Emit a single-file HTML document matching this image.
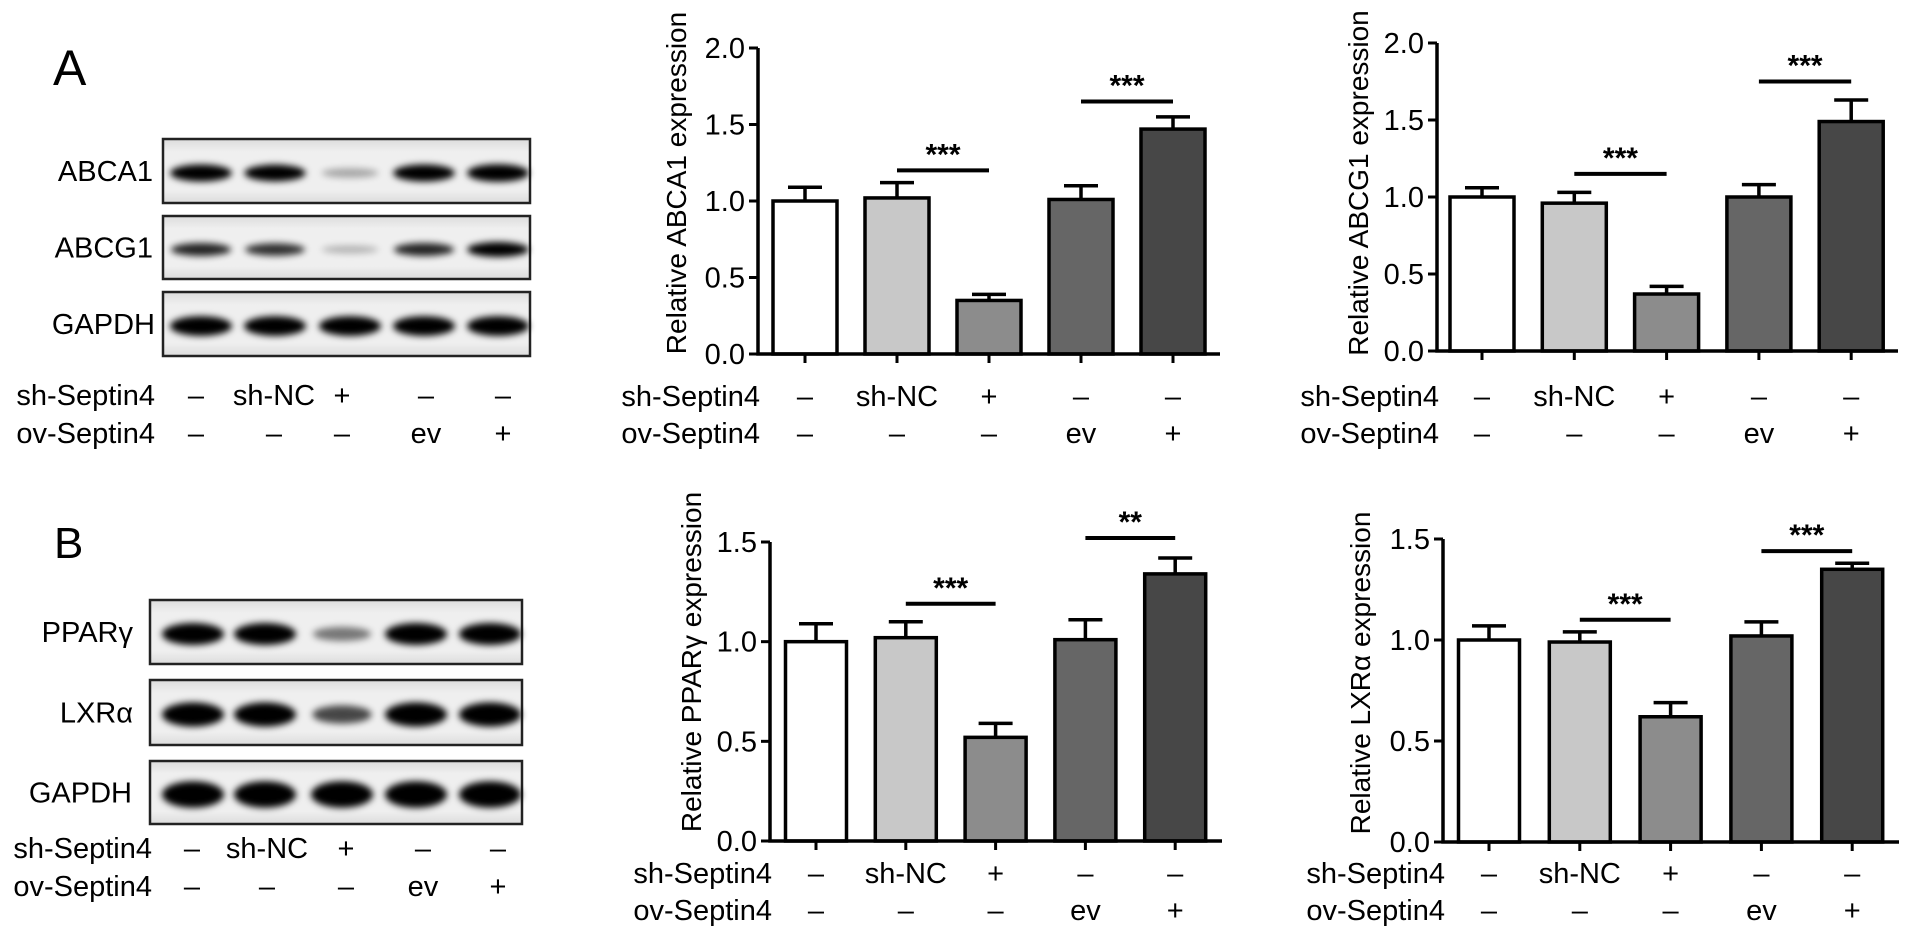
<!DOCTYPE html>
<html><head><meta charset="utf-8">
<style>
html,body{margin:0;padding:0;background:#fff;}
svg{display:block;font-family:"Liberation Sans",Arial,sans-serif;}
</style></head>
<body>
<svg id="fig" width="1913" height="942" viewBox="0 0 1913 942" xmlns="http://www.w3.org/2000/svg">
<defs>
<filter id="blur" x="-30%" y="-100%" width="160%" height="300%"><feGaussianBlur stdDeviation="3.5"/></filter>
<linearGradient id="blotbg" x1="0" y1="0" x2="0" y2="1"><stop offset="0" stop-color="#dcdcdc"/><stop offset="0.2" stop-color="#efefef"/><stop offset="0.8" stop-color="#efefef"/><stop offset="1" stop-color="#dcdcdc"/></linearGradient>
</defs>
<text x="53" y="85" font-size="50">A</text>
<text x="54" y="558" font-size="44">B</text>
<g id="blots"></g>
<g id="charts"></g>
</svg>
<script>
// ---------- chart data ----------
const categories = ["control", "sh-NC", "sh-Septin4", "ev", "ov-Septin4"];
const shRow = ["–", "sh-NC", "+", "–", "–"];
const ovRow = ["–", "–", "–", "ev", "+"];
const ticksTop = [0, 0.5, 1.0, 1.5, 2.0];
const ticksBottom = [0, 0.5, 1.0, 1.5];
const tickLabelsTop = ["0.0", "0.5", "1.0", "1.5", "2.0"];
const tickLabelsBottom = ["0.0", "0.5", "1.0", "1.5"];
const abca1Values = [1.0, 1.02, 0.35, 1.01, 1.47];
const abca1Errors = [0.09, 0.10, 0.04, 0.09, 0.08];
const abca1Sig = [[1, 2, 1.2, "***"], [3, 4, 1.65, "***"]];
const abcg1Values = [1.0, 0.96, 0.37, 1.0, 1.49];
const abcg1Errors = [0.06, 0.07, 0.05, 0.08, 0.14];
const abcg1Sig = [[1, 2, 1.15, "***"], [3, 4, 1.75, "***"]];
const pparValues = [1.0, 1.02, 0.52, 1.01, 1.34];
const pparErrors = [0.09, 0.08, 0.07, 0.10, 0.08];
const pparSig = [[1, 2, 1.19, "***"], [3, 4, 1.52, "**"]];
const lxrValues = [1.0, 0.99, 0.62, 1.02, 1.35];
const lxrErrors = [0.07, 0.05, 0.07, 0.07, 0.03];
const lxrSig = [[1, 2, 1.10, "***"], [3, 4, 1.44, "***"]];
// band intensities (0..1) for blots
const blotA1 = [0.95, 0.9, 0.15, 0.95, 1.0];
const blotA2 = [0.7, 0.65, 0.1, 0.7, 0.95];
const blotA3 = [1.0, 1.0, 1.0, 1.0, 1.0];
const blotB1 = [1.0, 1.0, 0.35, 1.0, 1.0];
const blotB2 = [1.0, 1.0, 0.55, 1.0, 1.0];
const blotB3 = [1.0, 1.0, 1.0, 1.0, 1.0];

const NS = "http://www.w3.org/2000/svg";
function mk(tag, attrs, parent) {
  const e = document.createElementNS(NS, tag);
  for (const k in attrs) e.setAttribute(k, attrs[k]);
  parent.appendChild(e);
  return e;
}
const fills = ["#ffffff", "#c8c8c8", "#8c8c8c", "#666666", "#474747"];

function drawChart(cfg, values, errors, sig, ticks, tickLabels) {
  const g = mk("g", {}, document.getElementById("charts"));
  
  
  const yS = v => cfg.y0 - (v / cfg.ymax) * (cfg.y0 - cfg.yTop);
  const xS = i => cfg.x0 + i * cfg.step;
  // bars
  values.forEach((v, i) => {
    const r = mk("rect", {x: xS(i) - cfg.bw / 2, y: yS(v), width: cfg.bw, height: cfg.y0 - yS(v), fill: fills[i], stroke: "#000", "stroke-width": 3.5}, g);
    
    
    const eb = mk("path", {d: `M${xS(i)},${yS(v)}V${yS(v + errors[i])}M${xS(i) - 17},${yS(v + errors[i])}H${xS(i) + 17}`, stroke: "#000", "stroke-width": 3.5, fill: "none"}, g);
    
    
    const tk = mk("line", {x1: xS(i), x2: xS(i), y1: cfg.y0, y2: cfg.y0 + 9, stroke: "#000", "stroke-width": 3}, g);
    
    
    const t1 = mk("text", {x: xS(i), y: cfg.row1 + 10, "font-size": 29, "text-anchor": "middle"}, g);
    t1.textContent = shRow[i];
    
    
    const t2 = mk("text", {x: xS(i), y: cfg.row2 + 10, "font-size": 29, "text-anchor": "middle"}, g);
    t2.textContent = ovRow[i];
    
    
  });
  // axes
  const ax = mk("path", {d: `M${cfg.ax},${yS(cfg.ymax)}V${cfg.y0}H${cfg.axEnd}`, stroke: "#000", "stroke-width": 3.5, fill: "none"}, g);
  
  
  ticks.forEach((t, i) => {
    const l = mk("line", {x1: cfg.ax - 9, x2: cfg.ax, y1: yS(t), y2: yS(t), stroke: "#000", "stroke-width": 3}, g);
    
    
    const tl = mk("text", {x: cfg.ax - 13, y: yS(t) + 10, "font-size": 29, "text-anchor": "end"}, g);
    tl.textContent = tickLabels[i];
    
    
  });
  const title = mk("text", {x: 0, y: 0, "font-size": 28, "text-anchor": "middle", transform: `translate(${cfg.tx + 10},${cfg.ty}) rotate(-90)`}, g);
  title.textContent = cfg.title;
  
  
  const rl1 = mk("text", {x: cfg.ax + 2, y: cfg.row1 + 10, "font-size": 29, "text-anchor": "end"}, g);
  rl1.textContent = "sh-Septin4";
  
  
  const rl2 = mk("text", {x: cfg.ax + 2, y: cfg.row2 + 10, "font-size": 29, "text-anchor": "end"}, g);
  rl2.textContent = "ov-Septin4";
  
  
  sig.forEach(s => {
    const y = yS(s[2]);
    const sl = mk("line", {x1: xS(s[0]), x2: xS(s[1]), y1: y, y2: y, stroke: "#000", "stroke-width": 4}, g);
    
    
    const st = mk("text", {x: (xS(s[0]) + xS(s[1])) / 2, y: y - 6, "font-size": 30, "text-anchor": "middle", "font-weight": "bold"}, g);
    st.textContent = s[3];
    
    
  });
}

drawChart({name: "abca1-chart", ax: 758, axEnd: 1220, y0: 354, yTop: 48, ymax: 2, x0: 805, step: 92, bw: 64, tx: 676, ty: 183, row1: 396, row2: 433, title: "Relative ABCA1 expression"}, abca1Values, abca1Errors, abca1Sig, ticksTop, tickLabelsTop);
drawChart({name: "abcg1-chart", ax: 1437, axEnd: 1898, y0: 351, yTop: 43, ymax: 2, x0: 1482, step: 92.3, bw: 64, tx: 1358, ty: 183, row1: 396, row2: 433, title: "Relative ABCG1 expression"}, abcg1Values, abcg1Errors, abcg1Sig, ticksTop, tickLabelsTop);
drawChart({name: "ppar-gamma-chart", ax: 770, axEnd: 1222, y0: 841, yTop: 542, ymax: 1.5, x0: 816, step: 89.8, bw: 61, tx: 691, ty: 662, row1: 873, row2: 910, title: "Relative PPARγ expression"}, pparValues, pparErrors, pparSig, ticksBottom, tickLabelsBottom);
drawChart({name: "lxr-alpha-chart", ax: 1443, axEnd: 1899, y0: 842, yTop: 539, ymax: 1.5, x0: 1489, step: 90.8, bw: 61, tx: 1360, ty: 673, row1: 873, row2: 910, title: "Relative LXRα expression"}, lxrValues, lxrErrors, lxrSig, ticksBottom, tickLabelsBottom);

// ---------- blots ----------
function drawBlot(x, y, w, h, lanes, intens, label, labelRight, name, thick) {
  const g = mk("g", {}, document.getElementById("blots"));
  
  
  const r = mk("rect", {x: x, y: y, width: w, height: h, fill: "url(#blotbg)", stroke: "#222", "stroke-width": 2.5}, g);
  
  
  lanes.forEach((cx, i) => {
    const a = intens[i];
    const e = mk("ellipse", {cx: cx, cy: y + h / 2 + 2, rx: 28 + a * 3, ry: (thick || 6) * (0.5 + a * 0.6), fill: "#000", opacity: Math.min(1, 0.15 + a), filter: "url(#blur)"}, g);
    
    
  });
  const t = mk("text", {x: labelRight, y: y + h / 2 + 10, "font-size": 29, "text-anchor": "end"}, g);
  t.textContent = label;
  
  
}
const lanesA = [201, 275, 350, 424, 498];
const lanesB = [193, 265, 342, 416, 490];
drawBlot(163, 139, 367, 64, lanesA, blotA1, "ABCA1", 153, "abca1-blot", 8);
drawBlot(163, 216, 367, 63, lanesA, blotA2, "ABCG1", 153, "abcg1-blot", 7);
drawBlot(163, 292, 367, 64, lanesA, blotA3, "GAPDH", 155, "gapdh-blot-a", 9);
drawBlot(150, 600, 372, 64, lanesB, blotB1, "PPARγ", 133, "ppar-gamma-blot", 10);
drawBlot(150, 680, 372, 65, lanesB, blotB2, "LXRα", 133, "lxr-alpha-blot", 11);
drawBlot(150, 761, 372, 63, lanesB, blotB3, "GAPDH", 132, "gapdh-blot-b", 12);

function blotRows(lanes, rx, y1, y2, name) {
  const g = mk("g", {}, document.getElementById("blots"));
  
  
  const a = mk("text", {x: rx, y: y1 + 10, "font-size": 29, "text-anchor": "end"}, g);
  a.textContent = "sh-Septin4";
  
  
  const b = mk("text", {x: rx, y: y2 + 10, "font-size": 29, "text-anchor": "end"}, g);
  b.textContent = "ov-Septin4";
  
  
  lanes.forEach((cx, i) => {
    const t1 = mk("text", {x: cx, y: y1 + 10, "font-size": 29, "text-anchor": "middle"}, g);
    t1.textContent = shRow[i];
    
    
    const t2 = mk("text", {x: cx, y: y2 + 10, "font-size": 29, "text-anchor": "middle"}, g);
    t2.textContent = ovRow[i];
    
    
  });
}
blotRows([196, 274, 342, 426, 503], 155, 395, 433, "blot-a-conditions");
blotRows([192, 267, 346, 423, 498], 152, 848, 886, "blot-b-conditions");
</script>
</body></html>
